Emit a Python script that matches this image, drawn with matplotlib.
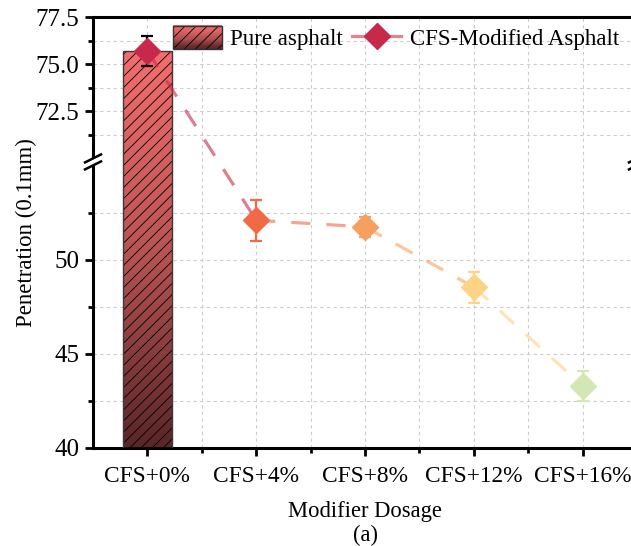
import numpy as np
import matplotlib
matplotlib.use("Agg")
import matplotlib.pyplot as plt
from matplotlib.patches import Rectangle
from matplotlib.lines import Line2D
from matplotlib.legend_handler import HandlerBase
from matplotlib.colors import LinearSegmentedColormap

# === data
categories = ["CFS+0%", "CFS+4%", "CFS+8%", "CFS+12%", "CFS+16%"]
penetration = [75.7, 52.1, 51.75, 48.55, 43.3]
pen_err = [0.8, 1.1, 0.55, 0.82, 0.8]
pure_value = 75.7

point_colors = ["#c8284a", "#ef6a45", "#f7a05e", "#fdd385", "#d5e6b5"]
err_colors = ["black", "#ef6a45", "#f7a05e", "#fdd385", "#d5e6b5"]

# broken axis: 55.2 .. 69.8 is cut out
brk_lo, brk_hi = 55.2, 69.8
gap = brk_hi - brk_lo

def fwd(y):
    y = np.asarray(y, dtype=float)
    return np.where(y <= brk_lo, y, np.where(y >= brk_hi, y - gap, brk_lo))

def inv(t):
    t = np.asarray(t, dtype=float)
    return np.where(t <= brk_lo, t, t + gap)

plt.rcParams['font.family'] = ['Liberation Serif', 'DejaVu Serif']
plt.rcParams['font.size'] = 16
plt.rcParams['hatch.linewidth'] = 0.6

bar_cmap = LinearSegmentedColormap.from_list("barc", ["#5a2628", "#b85454", "#f26d6d"])

class GradientHandler(HandlerBase):
    def create_artists(self, legend, orig_handle, xdescent, ydescent, width, height, fontsize, trans):
        arts = []
        n = 20
        for i in range(n):
            arts.append(Rectangle((-xdescent, -ydescent + height * i / n), width, height / n + 0.4,
                                  facecolor=bar_cmap(i / (n - 1)), edgecolor='none', transform=trans))
        arts.append(Rectangle((-xdescent, -ydescent), width, height, fill=False, hatch='///',
                              edgecolor='black', lw=0, transform=trans))
        arts.append(Rectangle((-xdescent, -ydescent), width, height, fill=False,
                              edgecolor='#333333', lw=1.0, transform=trans))
        return arts

fig = plt.figure(figsize=(6.31, 5.46), dpi=100)
ax = fig.add_axes([93 / 631, 98 / 546, 544 / 631, 431 / 546])
ax.set_yscale('function', functions=(fwd, inv))
ax.set_ylim(40, 77.5)
ax.set_xlim(-0.5, 4.5)
x = np.arange(len(categories))

# gradient bar (slices in display space)
bw = 0.45
t_edges = np.linspace(fwd(40), fwd(pure_value), 81)
y_edges = inv(t_edges)
for i in range(len(y_edges) - 1):
    ax.bar(0, y_edges[i + 1] - y_edges[i] + 0.02, bottom=y_edges[i], width=bw,
           color=bar_cmap(i / (len(y_edges) - 2)), edgecolor='none', zorder=2)
ax.bar(0, pure_value - 40, bottom=40, width=bw, fill=False, hatch='///',
       edgecolor='black', lw=0, zorder=3)
bar_outline = ax.bar(0, pure_value - 40, bottom=40, width=bw, fill=False,
                     edgecolor='#3a3a3a', lw=1.0, zorder=3)

# dashed line segments
for i in range(len(x) - 1):
    ax.plot(x[i:i + 2], penetration[i:i + 2], ls=(0, (6, 5)), lw=2.3,
            color=point_colors[i], alpha=0.6, zorder=4)
for i in range(len(x)):
    ax.errorbar(x[i], penetration[i], yerr=pen_err[i], fmt='none', ecolor=err_colors[i],
                elinewidth=1.6, capsize=4.3, capthick=1.6, zorder=5)
    ax.plot(x[i], penetration[i], marker='D', ms=13, color=point_colors[i],
            mec=point_colors[i], ls='none', zorder=6)

# ticks
ax.set_yticks([40, 45, 50, 72.5, 75, 77.5])
ax.set_yticklabels(["40", "45", "50", "72.5", "75.0", "77.5"])
ax.set_yticks([42.5, 47.5, 52.5, 71.25, 73.75, 76.25], minor=True)
ax.set_xticks(x)
ax.set_xticklabels(categories)
ax.set_xticks(x[:-1] + 0.5, minor=True)
ax.tick_params(which='major', direction='out', length=6, width=2)
ax.tick_params(which='minor', direction='out', length=3.5, width=2)
ax.tick_params(axis='x', pad=7, labelsize=16.8)
ax.tick_params(axis='y', pad=4, labelsize=18)

for s in ax.spines.values():
    s.set_linewidth(2.2)

ax.set_axisbelow(True)
ax.grid(which='both', ls=(0, (3, 3)), color='#cccccc', lw=0.8)

ax.set_ylabel("Penetration (0.1mm)", fontsize=16.5, labelpad=-1)
ax.set_xlabel("Modifier Dosage\n(a)", fontsize=16.3, labelpad=10, linespacing=1.2)

# break marks on spines
by = (fwd(brk_lo) - 40) / (fwd(77.5) - 40)
dxp, dyp = 1 / 544, 1 / 431
for xs in (0, 1):
    ax.add_patch(Rectangle((xs - 3 * dxp, by - 3 * dyp), 6 * dxp, 6 * dyp,
                           transform=ax.transAxes, facecolor='white', edgecolor='none',
                           clip_on=False, zorder=10))
    for off in (-3.5, 3.5):
        ax.plot([xs - 8 * dxp, xs + 8 * dxp], [by + (off - 4) * dyp, by + (off + 4) * dyp],
                transform=ax.transAxes, color='black', lw=1.8, clip_on=False, zorder=11)

# legend
line_proxy = Line2D([], [], color="#e7838f", lw=2.3, marker='D', markersize=13,
                    markerfacecolor=point_colors[0], markeredgecolor=point_colors[0])
handle_bar = bar_outline.patches[0]
leg = ax.legend([handle_bar, line_proxy], ["Pure asphalt", "CFS-Modified Asphalt"],
                handler_map={handle_bar: GradientHandler()}, ncol=2, frameon=False,
                loc='upper left', bbox_to_anchor=(173 / 631, 1 - 26 / 546),
                bbox_transform=fig.transFigure, borderpad=0, borderaxespad=0,
                handlelength=2.15, handleheight=1.15, handletextpad=0.35,
                columnspacing=0.4, fontsize=16.5)

fig.savefig("out.png", dpi=100)
